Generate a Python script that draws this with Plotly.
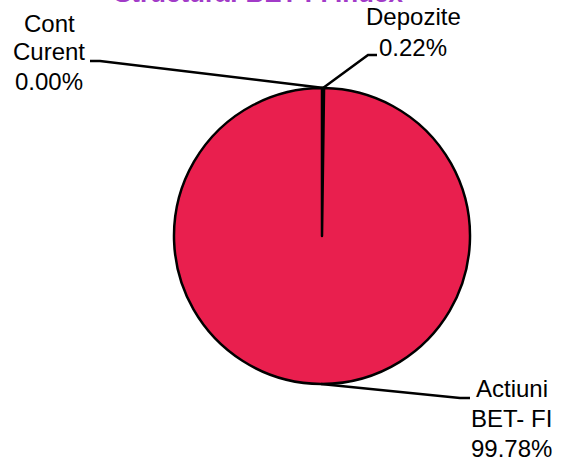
import math
import plotly.graph_objects as go

# ---- data ----
categories = ["Depozite", "Cont Curent", "Actiuni BET- FI"]
label_lines = [["Depozite"], ["Cont", "Curent"], ["Actiuni", "BET- FI"]]
values = [0.22, 0.00, 99.78]
title_text = "Structura: BET-FI Index"

W, H = 569, 459
CX, CY, R = 322, 236, 148  # pie centre/radius in pixels (layout)

def px(x):
    return x / W

def py(y):
    return 1 - y / H

fig = go.Figure()
fig.add_trace(go.Pie(
    labels=categories,
    values=values,
    sort=False,
    direction="clockwise",
    rotation=0,
    textinfo="none",
    hoverinfo="skip",
    showlegend=False,
    marker=dict(colors=["#E91F4E"] * 3, line=dict(color="black", width=2.5)),
    domain=dict(x=[px(CX - R), px(CX + R)], y=[py(CY + R), py(CY - R)]),
))

# label layout: (centre x, first line middle y, line pitch, elbow points)
label_layout = {
    "Depozite": dict(x=413, y=17, pitch=30, line=[(377, 55), (368, 55)]),
    "Cont Curent": dict(x=49, y=23, pitch=29, line=[(90, 61), (100, 61)]),
    "Actiuni BET- FI": dict(x=512, y=388, pitch=30, line=[(470, 398), (460, 398)]),
}

total = sum(values)
cum = 0.0
annotations = []
shapes = []
for cat, lines, v in zip(categories, label_lines, values):
    mid = (cum + v / 2) / total * 2 * math.pi
    cum += v
    rx = CX + R * math.sin(mid)
    ry = CY - R * math.cos(mid)
    lay = label_layout[cat]
    texts = lines + ["%.2f%%" % v]
    for i, t in enumerate(texts):
        annotations.append(dict(
            text=t, x=px(lay["x"]), y=py(lay["y"] + i * lay["pitch"]),
            xref="paper", yref="paper", xanchor="center", yanchor="middle",
            showarrow=False, font=dict(family="Liberation Sans, Arial", size=24, color="black"),
        ))
    pts = lay["line"] + [(rx, ry)]
    path = "M " + " L ".join("%f %f" % (px(a), py(b)) for a, b in pts)
    shapes.append(dict(type="path", path=path, xref="paper", yref="paper",
                       line=dict(color="black", width=2.5)))

annotations.append(dict(
    text="<b>%s</b>" % title_text, x=px(258), y=py(10), xref="paper", yref="paper",
    xanchor="center", yanchor="bottom", showarrow=False,
    font=dict(family="Liberation Sans, Arial", size=26, color="#A23BC8"),
))

fig.update_layout(
    width=W, height=H,
    margin=dict(l=0, r=0, t=0, b=0),
    paper_bgcolor="white", plot_bgcolor="white",
    annotations=annotations, shapes=shapes,
)

fig.write_html("out.html", config={"displayModeBar": False},
               post_script="document.body.style.margin='0';document.body.style.overflow='hidden';")
